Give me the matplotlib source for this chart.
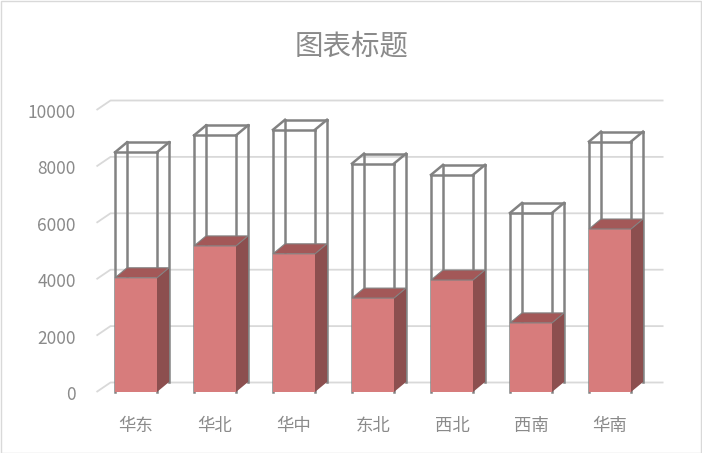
import matplotlib
matplotlib.use("Agg")
import matplotlib.pyplot as plt
from matplotlib.patches import Polygon, Rectangle

plt.rcParams['font.family'] = ['Noto Sans CJK SC', 'DejaVu Sans']

categories = ["华东", "华北", "华中", "东北", "西北", "西南", "华南"]
actual = [4050, 5180, 4900, 3330, 3970, 2450, 5780]
target = [8500, 9100, 9300, 8100, 7700, 6350, 8880]
yticks = [0, 2000, 4000, 6000, 8000, 10000]
title = "图表标题"

W, H = 702, 453
fig = plt.figure(figsize=(W / 100, H / 100), dpi=100)
fig.patches.append(Rectangle((0.5 / W, 0.5 / H), 1 - 1.5 / W, 1 - 1.5 / H,
                             transform=fig.transFigure, fill=False,
                             edgecolor='#D9D9D9', linewidth=1.0))

left_px, right_px = 96.5, 649.5
y0_px, y1_px = 392, 110
ax = fig.add_axes([left_px / W, (H - y0_px) / H, (right_px - left_px) / W, (y0_px - y1_px) / H])
n = len(categories)
ax.set_xlim(-0.5, n - 0.5)
ax.set_ylim(0, 10000)
ax.axis('off')

cx = n / (right_px - left_px)      # category units per px
cy = 10000 / (y0_px - y1_px)       # value units per px

text_c = '#8A8A8A'

# back wall gridlines
wdx, wdy = 14 * cx, 9.5 * cy
for v in yticks:
    ax.plot([-0.5, -0.5 + wdx, n - 0.5 + wdx], [v, v + wdy, v + wdy],
            color='#D9D9D9', linewidth=1.3, zorder=0, clip_on=False, solid_capstyle='butt')
    ax.text(-0.5 - 20.5 * cx, v - 3 * cy, f"{v}", ha='right', va='center', fontsize=12.5,
            color=text_c, fontweight='light')

bw = 42 * cx
bdx, bdy = 12 * cx, 10 * cy
front_c = '#D77C7C'
side_c = '#8C4F4F'
top_c = '#A35858'
edge_c = '#828282'

for i, (a, t) in enumerate(zip(actual, target)):
    x0, x1 = i - bw / 2, i + bw / 2
    # wireframe target box
    lines = [
        ([x0, x0], [0, t]), ([x1, x1], [0, t]), ([x0, x1], [t, t]),
        ([x0 + bdx, x0 + bdx], [bdy, t + bdy]), ([x1 + bdx, x1 + bdx], [bdy, t + bdy]),
        ([x0 + bdx, x1 + bdx], [t + bdy, t + bdy]),
        ([x0, x0 + bdx], [t, t + bdy]), ([x1, x1 + bdx], [t, t + bdy]),
    ]
    for xs, ys in lines:
        ax.plot(xs, ys, color=edge_c, linewidth=1.8, zorder=2, clip_on=False,
                solid_capstyle='projecting')
    # solid actual bar
    ax.bar(i, a, width=bw, color=front_c, zorder=3, linewidth=0)
    ax.add_patch(Polygon([(x1, 0), (x1 + bdx, bdy), (x1 + bdx, a + bdy), (x1, a)],
                         closed=True, facecolor=side_c, edgecolor='none', zorder=3, clip_on=False))
    ax.add_patch(Polygon([(x0, a), (x1, a), (x1 + bdx, a + bdy), (x0 + bdx, a + bdy)],
                         closed=True, facecolor=top_c, edgecolor=edge_c, linewidth=0.8,
                         zorder=4, clip_on=False))
    ax.text(i, -34 * cy, categories[i], ha='center', va='center', fontsize=12.5,
            color=text_c, fontweight='light')

fig.text(352 / W, 1 - 46 / H, title, ha='center', va='center', fontsize=20.5,
         color=text_c, fontweight='light')

fig.savefig("out.png", dpi=100)
